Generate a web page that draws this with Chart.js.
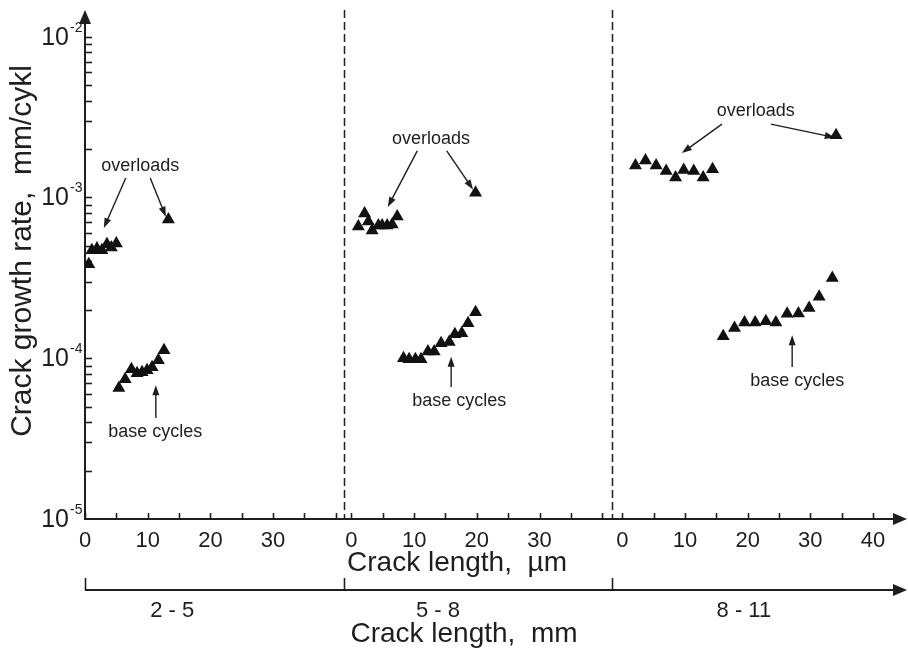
<!DOCTYPE html>
<html>
<head>
<meta charset="utf-8">
<script src="https://cdn.jsdelivr.net/npm/chart.js@4.4.1/dist/chart.umd.min.js"></script>
<style>
  html, body { margin: 0; padding: 0; background: #fff; }
  #wrap { width: 908px; height: 650px; }
</style>
</head>
<body>
<div id="wrap"><canvas id="chart" width="908" height="650"></canvas></div>
<script>
// ---- data: crack growth rate (mm/cycle) vs crack length (µm) in three crack-length ranges ----
const rangeLabels = ['2 - 5', '5 - 8', '8 - 11'];

// range 2 - 5 mm
const overloads1X = [0.6, 1.1, 1.9, 2.7, 3.5, 4.2, 5.0, 13.3];
const overloads1Y = [3.84e-4, 4.69e-4, 4.82e-4, 4.69e-4, 5.11e-4, 4.89e-4, 5.18e-4, 7.29e-4];
const base1X = [5.4, 6.4, 7.4, 8.3, 9.1, 9.9, 10.7, 11.7, 12.6];
const base1Y = [6.52e-5, 7.41e-5, 8.55e-5, 8.07e-5, 8.19e-5, 8.42e-5, 8.79e-5, 9.72e-5, 1.12e-4];

// range 5 - 8 mm
const overloads2X = [1.1, 2.1, 2.7, 3.3, 4.3, 4.9, 5.7, 6.5, 7.3, 19.8];
const overloads2Y = [6.61e-4, 7.96e-4, 7.10e-4, 6.24e-4, 6.70e-4, 6.70e-4, 6.70e-4, 6.80e-4, 7.62e-4, 1.07e-3];
const base2X = [8.3, 9.2, 10.2, 11.1, 12.2, 13.2, 14.3, 15.6, 16.5, 17.6, 18.6, 19.8];
const base2Y = [1.00e-4, 9.86e-5, 9.86e-5, 9.86e-5, 1.10e-4, 1.10e-4, 1.24e-4, 1.26e-4, 1.41e-4, 1.43e-4, 1.65e-4, 1.93e-4];

// range 8 - 11 mm
const overloads3X = [2.1, 3.7, 5.4, 7.0, 8.5, 9.8, 11.4, 12.9, 14.4, 34.1];
const overloads3Y = [1.58e-3, 1.70e-3, 1.58e-3, 1.46e-3, 1.33e-3, 1.48e-3, 1.46e-3, 1.33e-3, 1.50e-3, 2.44e-3];
const base3X = [16.1, 17.9, 19.5, 21.2, 22.9, 24.5, 26.3, 28.1, 29.8, 31.4, 33.5];
const base3Y = [1.37e-4, 1.54e-4, 1.67e-4, 1.67e-4, 1.70e-4, 1.67e-4, 1.89e-4, 1.90e-4, 2.05e-4, 2.41e-4, 3.16e-4];

// axis ticks (µm within a range) and decades of the rate axis
const lengthTicks = [[0, 10, 20, 30], [0, 10, 20, 30], [0, 10, 20, 30, 40]];
const rateDecades = [-2, -3, -4, -5];

// ---- layout of the broken length axis ----
const rangeStart = [0, 42.5, 85.7];   // where each range's 0 µm sits on the shared axis
const rangeBreaks = [41.3, 84.1];     // dashed separators on the shared axis
const rangeTickEnd = [40, 40, 40];    // last small tick in each range
const rangeLabelAt = [13.9, 13.8, 19.4];

// annotation callouts: [µm, rate] within a range
const notes = [
  { text: 'overloads', range: 0, at: [8.8, 1.57e-3],
    arrows: [[[6.5, 1.32e-3], [3.0, 6.46e-4]], [[10.4, 1.32e-3], [12.9, 7.6e-4]]] },
  { text: 'base cycles', range: 0, at: [11.2, 3.48e-5],
    arrows: [[[11.3, 4.25e-5], [11.3, 6.8e-5]]] },
  { text: 'overloads', range: 1, at: [12.7, 2.31e-3],
    arrows: [[[10.5, 1.95e-3], [5.8, 8.73e-4]], [[15.2, 1.95e-3], [19.4, 1.12e-3]]] },
  { text: 'base cycles', range: 1, at: [17.2, 5.42e-5],
    arrows: [[[15.9, 6.62e-5], [15.9, 1.02e-4]]] },
  { text: 'overloads', range: 2, at: [21.3, 3.45e-3],
    arrows: [[[15.9, 2.86e-3], [9.5, 1.89e-3]], [[23.7, 2.86e-3], [33.9, 2.36e-3]]] },
  { text: 'base cycles', range: 2, at: [27.9, 7.22e-5],
    arrows: [[[27.1, 8.82e-5], [27.1, 1.39e-4]]] }
];

const FONT = '"Liberation Sans", Arial, Helvetica, sans-serif';
const INK = '#1e1e1e';

function series(xs, ys, range) {
  return xs.map((x, i) => ({ x: rangeStart[range] + x, y: ys[i] }));
}

const triangle = {
  pointStyle: 'triangle', pointRadius: 7.5, pointHoverRadius: 7.5,
  backgroundColor: '#111', borderColor: '#111', borderWidth: 0, showLine: false
};

const datasets = [
  { label: 'overloads 2-5', data: series(overloads1X, overloads1Y, 0), ...triangle },
  { label: 'base 2-5', data: series(base1X, base1Y, 0), ...triangle },
  { label: 'overloads 5-8', data: series(overloads2X, overloads2Y, 1), ...triangle },
  { label: 'base 5-8', data: series(base2X, base2Y, 1), ...triangle },
  { label: 'overloads 8-11', data: series(overloads3X, overloads3Y, 2), ...triangle },
  { label: 'base 8-11', data: series(base3X, base3Y, 2), ...triangle }
];

function text(ctx, s, x, y, size, align, sx, rot) {
  ctx.save();
  ctx.translate(x, y);
  if (rot) ctx.rotate(rot);
  ctx.scale(sx || 1, 1);
  ctx.font = size + 'px ' + FONT;
  ctx.fillStyle = INK;
  ctx.textAlign = align || 'center';
  ctx.textBaseline = 'middle';
  ctx.fillText(s, 0, 0);
  ctx.restore();
}

function arrowHead(ctx, x0, y0, x1, y1, len, half) {
  const a = Math.atan2(y1 - y0, x1 - x0);
  ctx.beginPath();
  ctx.moveTo(x1, y1);
  ctx.lineTo(x1 - len * Math.cos(a) + half * Math.sin(a), y1 - len * Math.sin(a) - half * Math.cos(a));
  ctx.lineTo(x1 - len * Math.cos(a) - half * Math.sin(a), y1 - len * Math.sin(a) + half * Math.cos(a));
  ctx.closePath();
  ctx.fill();
}

function arrow(ctx, x0, y0, x1, y1, width, len, half) {
  const a = Math.atan2(y1 - y0, x1 - x0);
  ctx.lineWidth = width;
  ctx.beginPath();
  ctx.moveTo(x0, y0);
  ctx.lineTo(x1 - (len * 0.8) * Math.cos(a), y1 - (len * 0.8) * Math.sin(a));
  ctx.stroke();
  arrowHead(ctx, x0, y0, x1, y1, len, half);
}

const frame = {
  id: 'frame',
  beforeDatasetsDraw(chart) {
    const ctx = chart.ctx;
    const xs = chart.scales.x, ys = chart.scales.y;
    const area = chart.chartArea;
    const X = (r, v) => xs.getPixelForValue(rangeStart[r] + v);
    const Y = v => ys.getPixelForValue(v);
    ctx.save();
    ctx.strokeStyle = INK;
    ctx.fillStyle = INK;
    ctx.lineCap = 'butt';

    // dashed range separators
    ctx.lineWidth = 1.5;
    ctx.setLineDash([8, 4]);
    rangeBreaks.forEach(b => {
      const px = Math.round(xs.getPixelForValue(b)) + 0.5;
      ctx.beginPath();
      ctx.moveTo(px, area.top);
      ctx.lineTo(px, area.bottom);
      ctx.stroke();
    });
    ctx.setLineDash([]);

    // axis lines with arrow heads
    const x0 = area.left, yb = area.bottom;
    ctx.lineWidth = 2;
    ctx.beginPath();
    ctx.moveTo(x0, yb);
    ctx.lineTo(x0, area.top + 10);
    ctx.moveTo(x0 - 1, yb);
    ctx.lineTo(area.right, yb);
    ctx.stroke();
    arrowHead(ctx, x0, yb, x0, area.top, 14, 6);
    arrowHead(ctx, x0, yb, area.right + 7, yb, 14, 6);

    // rate axis ticks (inside) and labels
    ctx.lineWidth = 1.6;
    for (let d = -5; d <= -2; d++) {
      for (let m = 1; m <= 9; m++) {
        const v = m * Math.pow(10, d);
        if (d === -5 && m === 1) continue;
        if (v > ys.max) continue;
        const py = Math.round(Y(v)) + 0.5;
        ctx.beginPath();
        ctx.moveTo(x0, py);
        ctx.lineTo(x0 + 7, py);
        ctx.stroke();
        if (d === -2) break;
      }
    }
    rateDecades.forEach(d => {
      const py = Y(Math.pow(10, d));
      text(ctx, '10', 69, py + 1, 25, 'right');
      text(ctx, String(d), 70, py - 9, 14, 'left');
    });

    // length axis ticks (inside) and labels
    for (let r = 0; r < 3; r++) {
      for (let v = 0; v <= rangeTickEnd[r]; v += 5) {
        const px = Math.round(X(r, v)) + 0.5;
        ctx.beginPath();
        ctx.moveTo(px, yb);
        ctx.lineTo(px, yb - 6);
        ctx.stroke();
      }
      lengthTicks[r].forEach(v => text(ctx, String(v), X(r, v), yb + 22, 22, 'center'));
    }

    // axis titles
    text(ctx, 'Crack length,  \u00b5m', 457, 563, 28, 'center');
    text(ctx, 'Crack growth rate,  mm/cykl', 23, 251, 30, 'center', 1, -Math.PI / 2);

    // crack-length range axis
    const yr = 590;
    ctx.lineWidth = 2;
    ctx.beginPath();
    ctx.moveTo(x0, yr);
    ctx.lineTo(area.right, yr);
    ctx.stroke();
    arrowHead(ctx, x0, yr, area.right + 7, yr, 14, 6);
    ctx.lineWidth = 1.6;
    [0].concat(rangeBreaks).forEach(b => {
      const px = Math.round(xs.getPixelForValue(b)) + 0.5;
      ctx.beginPath();
      ctx.moveTo(px, yr);
      ctx.lineTo(px, yr - 12);
      ctx.stroke();
    });
    rangeLabels.forEach((s, r) => text(ctx, s, X(r, rangeLabelAt[r]), 611, 22, 'center'));
    text(ctx, 'Crack length,  mm', 464, 634, 28, 'center');

    // callouts
    notes.forEach(n => {
      text(ctx, n.text, X(n.range, n.at[0]), Y(n.at[1]), 18, 'center');
      n.arrows.forEach(([a, b]) => {
        arrow(ctx, X(n.range, a[0]), Y(a[1]), X(n.range, b[0]), Y(b[1]), 1.4, 10, 3.5);
      });
    });
    ctx.restore();
  }
};

new Chart(document.getElementById('chart'), {
  type: 'scatter',
  data: { datasets },
  options: {
    responsive: false,
    animation: false,
    devicePixelRatio: 1,
    layout: { padding: { left: 85, top: 10, right: 8, bottom: 131 } },
    plugins: { legend: { display: false }, tooltip: { enabled: false } },
    scales: {
      x: { type: 'linear', min: 0, max: 130, display: false },
      y: { type: 'logarithmic', min: 1e-5, max: 0.01466, display: false }
    }
  },
  plugins: [frame]
});
</script>
</body>
</html>
